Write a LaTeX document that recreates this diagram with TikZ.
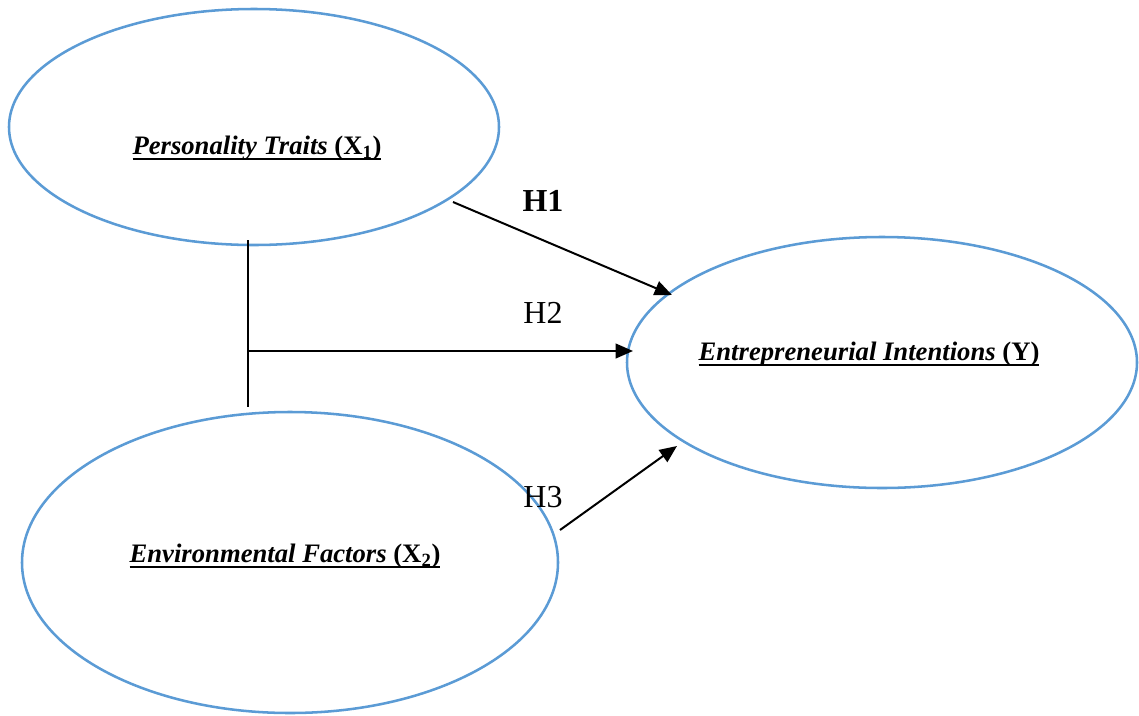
\documentclass[tikz,border=0pt]{standalone}
\usepackage{fontspec}
\setmainfont{Liberation Serif}
\usetikzlibrary{shapes.geometric,arrows.meta}
\definecolor{ellblue}{RGB}{91,155,213}
\tikzset{
  latent/.style={ellipse, draw=ellblue, line width=1.9pt, inner sep=0pt},
  conn/.style={line width=1.5pt, black},
  arr/.style={conn, -{Triangle[length=13pt,width=11pt]}},
  lab/.style={font=\fontsize{20}{24}\selectfont},
  hlab/.style={font=\fontsize{24}{28}\selectfont, inner sep=0pt}
}
\newsavebox{\ulbox}
\newcommand{\ulx}[1]{\sbox{\ulbox}{#1}\rlap{\rule[-4.5pt]{\wd\ulbox}{1.7pt}}\usebox{\ulbox}}
\begin{document}
\begin{tikzpicture}[x=0.75pt,y=-0.75pt]
\useasboundingbox (0,0) rectangle (1139,715);
\node[latent, minimum width=490*0.75pt, minimum height=236*0.75pt] (pt) at (254,127) {};
\node[latent, minimum width=536*0.75pt, minimum height=301*0.75pt] (ef) at (290,562.5) {};
\node[latent, minimum width=510*0.75pt, minimum height=251*0.75pt] (ei) at (882,362.5) {};
\node[lab] (ptl) at (257,148) {\ulx{\textbf{\textit{Personality Traits}} \textbf{(X\textsubscript{1})}}};
\node[lab] (efl) at (285,556) {\ulx{\textbf{\textit{Environmental Factors}} \textbf{(X\textsubscript{2})}}};
\node[lab] (eil) at (869,354) {\ulx{\textbf{\textit{Entrepreneurial Intentions}} \textbf{(Y)}}};
\node[hlab] (h1) at (543,201) {\textbf{H1}};
\node[hlab] (h2) at (543,313) {H2};
\node[hlab] (h3) at (543,497) {H3};
\coordinate (v1) at (248,240);
\coordinate (v2) at (248,407);
\coordinate (hs) at (248,351);
\coordinate (h1s) at (453,202);
\coordinate (h1e) at (672,295);
\coordinate (h2e) at (633,351);
\coordinate (h3s) at (560,530);
\coordinate (h3e) at (677,446);
\draw[conn] (v1) -- (v2);
\draw[arr] (hs) -- (h2e);
\draw[arr] (h1s) -- (h1e);
\draw[arr] (h3s) -- (h3e);
\end{tikzpicture}
\end{document}
